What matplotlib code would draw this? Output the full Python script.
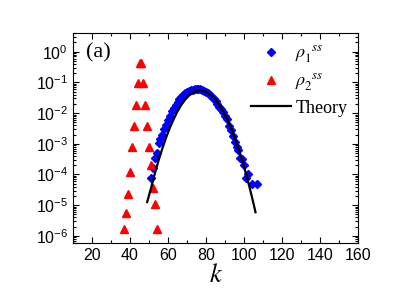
import numpy as np
import matplotlib
matplotlib.use("Agg")
import matplotlib.pyplot as plt
from matplotlib.ticker import MultipleLocator, LogLocator, NullFormatter

plt.rcParams['mathtext.fontset'] = 'stix'
plt.rcParams['font.family'] = 'Liberation Sans'

# rho_2^ss (red triangles)
k2 = [37, 38, 39, 40, 41, 42, 43, 44, 45, 46, 47, 48, 49, 50, 51, 52, 53, 54]
rho2_log = [-5.78, -5.27, -4.64, -3.92, -3.11, -2.42, -1.73, -1.03, -0.36,
            -0.36, -1.03, -1.73, -2.42, -3.11, -3.69, -4.43, -4.95, -5.78]

# rho_1^ss (blue diamonds)
k1 = [51, 52, 53, 54, 55, 56, 57, 58, 59, 60, 61, 62, 63, 64, 65, 66, 67, 68,
      69, 70, 71, 72, 73, 74, 75, 76, 77, 78, 79, 80, 81, 82, 83, 84, 85, 86,
      87, 88, 89, 90, 91, 92, 93, 94, 95, 96, 97, 98, 99, 100, 101, 102, 104, 107]
rho1_log = [-4.10, -3.80, -3.45, -3.30, -2.98, -2.85, -2.70, -2.52, -2.38, -2.22,
            -2.10, -1.93, -1.82, -1.72, -1.64, -1.55, -1.47, -1.41, -1.36, -1.32,
            -1.29, -1.26, -1.24, -1.23, -1.22, -1.22, -1.23, -1.24, -1.27, -1.30,
            -1.34, -1.40, -1.47, -1.54, -1.62, -1.71, -1.80, -1.88, -1.97, -2.08,
            -2.20, -2.42, -2.55, -2.75, -2.95, -3.10, -3.20, -3.45, -3.50, -3.68,
            -4.10, -4.00, -4.30, -4.30]

# theory curve
k_th = [49, 51, 53, 55, 57, 59, 61, 63, 65, 67, 69, 71, 73, 75, 77, 79, 81,
        83, 85, 87, 89, 91, 93, 95, 97, 99, 101, 103, 105, 106]
th_log = [-4.90, -4.45, -3.98, -3.54, -3.15, -2.79, -2.47, -2.19, -1.94, -1.73,
          -1.56, -1.43, -1.34, -1.28, -1.26, -1.28, -1.34, -1.43, -1.56, -1.73,
          -1.94, -2.19, -2.47, -2.79, -3.15, -3.54, -3.98, -4.45, -4.96, -5.23]

y_ticks = [1e-6, 1e-5, 1e-4, 1e-3, 1e-2, 1e-1, 1e0]

fig = plt.figure(figsize=(4.15, 2.92), dpi=100)
ax = fig.add_axes([0.176, 0.168, 0.687, 0.719])

ax.plot(k1, 10 ** np.array(rho1_log), 'D', color='#0000ff', ms=4.5, mec='#0000ff',
        label=r'$\rho_1^{\ \ ss}$')
ax.plot(k2, 10 ** np.array(rho2_log), '^', color='#ff0000', ms=5.5, mec='#ff0000',
        label=r'$\rho_2^{\ \ ss}$')
ax.plot(k_th, 10 ** np.array(th_log), '-', color='black', lw=1.6, label='Theory')

ax.set_yscale('log')
ax.set_xlim(10, 160)
ax.set_ylim(10 ** -6.23, 10 ** 0.61)
ax.xaxis.set_major_locator(MultipleLocator(20))
ax.xaxis.set_minor_locator(MultipleLocator(10))
ax.set_yticks(y_ticks)
ax.yaxis.set_minor_locator(LogLocator(base=10, subs=np.arange(2, 10), numticks=20))
ax.yaxis.set_minor_formatter(NullFormatter())

ax.tick_params(which='both', direction='in', top=True, right=True, width=0.8)
ax.tick_params(which='major', length=4, labelsize=11.5)
ax.tick_params(which='minor', length=2)

ax.set_xlabel('$k$', fontsize=19, labelpad=0)
ax.text(0.045, 0.905, '(a)', transform=ax.transAxes, fontsize=16,
        family='Liberation Serif', ha='left', va='center')

ax.legend(loc='upper right', bbox_to_anchor=(1.0, 1.0), frameon=False,
          prop={'family': 'Liberation Serif', 'size': 13},
          handlelength=2.2, handletextpad=0.25, labelspacing=0.35, borderaxespad=0.2)

fig.savefig('out.png', dpi=100)
